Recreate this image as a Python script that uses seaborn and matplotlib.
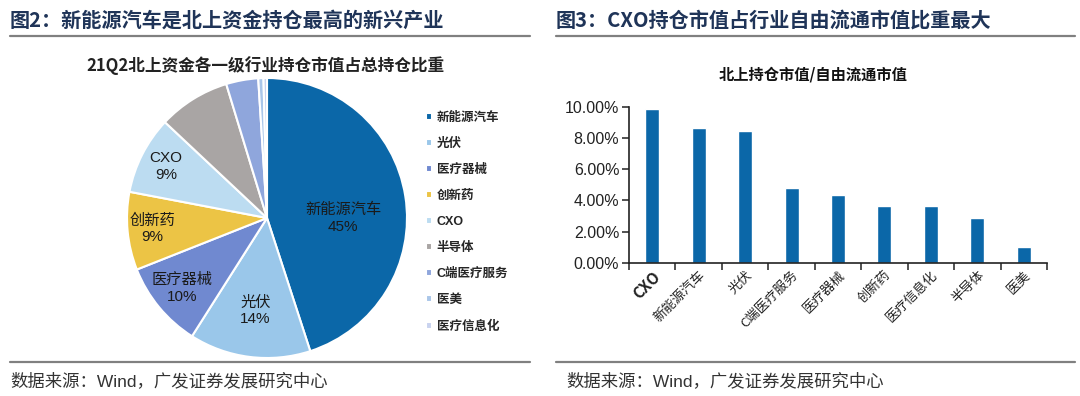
import pandas as pd
import seaborn as sns
import matplotlib.pyplot as plt
from matplotlib.lines import Line2D
from matplotlib.ticker import FuncFormatter, FixedLocator

# pie data (left panel)
pie_labels = ["新能源汽车", "光伏", "医疗器械", "创新药", "CXO", "半导体", "C端医疗服务", "医美", "医疗信息化"]
pie_values = [45.0, 14.0, 10.0, 9.0, 9.0, 8.3, 3.7, 0.6, 0.4]
pie_colors = ["#0b67a8", "#9ac7ea", "#7089d0", "#ecc445", "#bcdcf1", "#a9a5a4", "#8fa6dc", "#aac6e9", "#c9d3ef"]

# bar data (right panel)
bar_labels = ["CXO", "新能源汽车", "光伏", "C端医疗服务", "医疗器械", "创新药", "医疗信息化", "半导体", "医美"]
bar_values = [0.0983, 0.0861, 0.0846, 0.0477, 0.0432, 0.0363, 0.0363, 0.0287, 0.0103]

sns.set_theme(style="white")
plt.rcParams['font.family'] = ['Noto Sans CJK SC', 'DejaVu Sans']
mixed = ['Liberation Sans', 'Noto Sans CJK SC', 'DejaVu Sans']

W, H = 1080, 396
fig = plt.figure(figsize=(W / 100, H / 100), dpi=100)

title_color = "#1f3458"
fig.text(10 / W, 1 - 20 / H, "图2：新能源汽车是北上资金持仓最高的新兴产业", fontsize=14.5,
         fontweight="bold", color=title_color, va="center", ha="left")
fig.text(556 / W, 1 - 20 / H, "图3：CXO持仓市值占行业自由流通市值比重最大", fontsize=14.5,
         fontweight="bold", color=title_color, va="center", ha="left")

# separator lines
for x0, x1 in [(10, 530), (556, 1075)]:
    for yy in (36, 362):
        fig.add_artist(Line2D([x0 / W, x1 / W], [1 - yy / H, 1 - yy / H], color="#808080", lw=1.6))

for x0 in (10, 566):
    fig.text(x0 / W, 1 - 381 / H, "数据来源：Wind，广发证券发展研究中心", fontsize=12.5, color="#333333",
             va="center", ha="left", family=mixed)

# ---- pie ----
fig.text(265 / W, 1 - 66 / H, "21Q2北上资金各一级行业持仓市值占总持仓比重", fontsize=12,
         fontweight="bold", color="#222222", va="center", ha="center")

R = 140
cx, cy = 267, 218
ax1 = fig.add_axes([(cx - R) / W, 1 - (cy + R) / H, 2 * R / W, 2 * R / H])


def pct_label(p):
    return ""


wedges, texts, autotexts = ax1.pie(pie_values, colors=pie_colors, startangle=90, counterclock=False,
                                   autopct=pct_label, pctdistance=0.8,
                                   wedgeprops=dict(edgecolor="white", linewidth=1.5))
ax1.set_xlim(-1, 1)
ax1.set_ylim(-1, 1)
ax1.set_aspect("equal")

dist = [0.55, 0.67, 0.79, 0.82, 0.81]
for i in range(5):
    x, y = autotexts[i].get_position()
    k = dist[i] / 0.8
    y_shift = -0.09 if i == 0 else 0
    ax1.text(x * k, y * k + y_shift, "{}\n{:.0f}%".format(pie_labels[i], pie_values[i]), ha="center",
             va="center", fontsize=11, color="#1a1a1a", linespacing=1.25, family=mixed)

fig.legend(wedges, pie_labels, loc="upper left", bbox_to_anchor=(426 / W, 1 - 112 / H),
           bbox_transform=fig.transFigure, frameon=False, prop=dict(size=9, weight="bold", family=mixed),
           handlelength=0.45, handleheight=0.45, handletextpad=0.4, labelspacing=1.12,
           borderaxespad=0, borderpad=0)

# ---- bar ----
fig.text(813 / W, 1 - 75 / H, "北上持仓市值/自由流通市值", fontsize=11, fontweight="bold",
         color="#111111", va="center", ha="center")

ax2 = fig.add_axes([629 / W, 1 - 263 / H, (1047 - 629) / W, (263 - 106.7) / H])
df = pd.DataFrame({"industry": bar_labels, "ratio": bar_values})
sns.barplot(data=df, x="industry", y="ratio", color="#0b67a8", saturation=1, width=0.3, ax=ax2)
ax2.set_xlim(-0.5, len(bar_labels) - 0.5)
ax2.set_ylim(0, 0.10)
ax2.set_yticks([0, 0.02, 0.04, 0.06, 0.08, 0.10])
ax2.yaxis.set_major_formatter(FuncFormatter(lambda v, p: "{:.2f}%".format(v * 100)))
ax2.set_xlabel("")
ax2.set_ylabel("")
for s in ["top", "right"]:
    ax2.spines[s].set_visible(False)
for s in ["left", "bottom"]:
    ax2.spines[s].set_color("#222222")
    ax2.spines[s].set_linewidth(1.2)
ax2.xaxis.set_minor_locator(FixedLocator([i - 0.5 for i in range(len(bar_labels) + 1)]))
ax2.tick_params(axis="x", which="major", length=0, pad=4)
ax2.tick_params(axis="x", which="minor", length=5, width=1.1, color="#222222", direction="out", bottom=True)
ax2.tick_params(axis="y", length=5, width=1.1, color="#222222", direction="out", left=True, pad=2)
for lab in ax2.get_yticklabels():
    lab.set_fontfamily(["Liberation Sans", "DejaVu Sans"])
    lab.set_fontsize(11.5)
    lab.set_color("#222222")
ax2.set_xticks(range(len(bar_labels)))
ax2.set_xticklabels(bar_labels, rotation=45, ha="right", rotation_mode="anchor", fontsize=9.5,
                    color="#222222", fontweight="medium")
ax2.get_xticklabels()[0].set_fontweight("bold")
ax2.get_xticklabels()[0].set_fontsize(11)
ax2.grid(False)

fig.savefig("out.png", dpi=100)
